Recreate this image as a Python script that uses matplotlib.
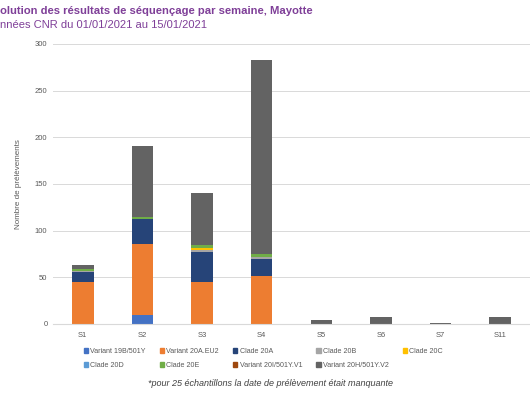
import matplotlib.pyplot as plt
from matplotlib.patches import Patch
import numpy as np

plt.rcParams['font.family'] = ['Liberation Sans', 'DejaVu Sans']

semaines = ["S1", "S2", "S3", "S4", "S5", "S6", "S7", "S11"]
series = ["Variant 19B/501Y", "Variant 20A.EU2", "Clade 20A", "Clade 20B", "Clade 20C",
          "Clade 20D", "Clade 20E", "Variant 20I/501Y.V1", "Variant 20H/501Y.V2"]
couleurs = ["#4472C4", "#ED7D31", "#264478", "#A5A5A5", "#FFC000",
            "#5B9BD5", "#70AD47", "#9E480E", "#636363"]

v_19b = [0, 10, 0, 0, 0, 0, 0, 0]
v_20a_eu2 = [45, 76, 45, 51, 0, 0, 0, 0]
c_20a = [11, 26, 32, 19, 0, 0, 0, 0]
c_20b = [1, 1, 2, 2, 0, 0, 0, 0]
c_20c = [0, 0, 2, 0, 0, 0, 0, 0]
c_20d = [0, 0, 0, 0, 0, 0, 0, 0]
c_20e = [2, 2, 4, 3, 0, 0, 0, 0]
v_20i = [0, 0, 0, 0, 0, 0, 0, 0]
v_20h = [4, 76, 55, 208, 4, 7, 1, 7]

valeurs = [v_19b, v_20a_eu2, c_20a, c_20b, c_20c, c_20d, c_20e, v_20i, v_20h]

fig = plt.figure(figsize=(5.3, 3.96), dpi=100)
ax = fig.add_axes([53 / 530, 1 - 324 / 396, 477 / 530, 280 / 396])

x = np.arange(len(semaines))
bas = np.zeros(len(semaines))
for nom, val, c in zip(series, valeurs, couleurs):
    ax.bar(x, val, 0.36, bottom=bas, color=c, label=nom)
    bas += np.array(val)

ax.set_ylim(0, 300)
ax.set_xlim(-0.5, len(semaines) - 0.5)
ax.set_yticks(range(0, 301, 50))
ax.set_xticks(x)
ax.set_xticklabels(semaines)
ax.tick_params(length=0, labelsize=5.5, colors="#595959", pad=6)
ax.tick_params(axis="y", pad=4)
ax.grid(axis="y", color="#D9D9D9", linewidth=0.7)
ax.set_axisbelow(True)
for s in ["top", "right", "left"]:
    ax.spines[s].set_visible(False)
ax.spines["bottom"].set_color("#D9D9D9")
ax.set_ylabel("Nombre de prélèvements", fontsize=5.8, color="#595959", labelpad=9)

# legende en lignes : reordonner pour le remplissage par colonnes
poignees = [Patch(color=c, label=n) for n, c in zip(series, couleurs)]
ordre = [0, 5, 1, 6, 2, 7, 3, 8, 4]
fig.legend([poignees[i] for i in ordre], [series[i] for i in ordre],
           ncol=5, loc="upper left", bbox_to_anchor=(84 / 530, 1 - 348 / 396),
           frameon=False, fontsize=5.1, handlelength=0.6, handleheight=0.6,
           handletextpad=0.3, columnspacing=2.0, labelspacing=1.0,
           labelcolor="#595959", borderpad=0, borderaxespad=0)

fig.text(0.0, 1 - 11 / 396, "olution des résultats de séquençage par semaine, Mayotte",
         fontsize=8.1, fontweight="bold", color="#7F3F98", va="center")
fig.text(0.0, 1 - 25 / 396, "nnées CNR du 01/01/2021 au 15/01/2021",
         fontsize=8.0, color="#7F3F98", va="center")
fig.text(148 / 530, 1 - 383 / 396, "*pour 25 échantillons la date de prélèvement était manquante",
         fontsize=6.5, style="italic", color="#404040", va="center")

fig.savefig("out.png", dpi=100)
